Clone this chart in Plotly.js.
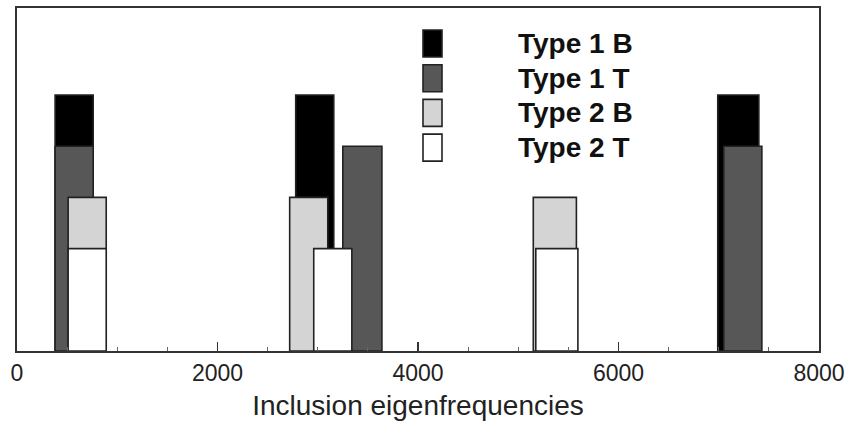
<!DOCTYPE html>
<html>
<head>
<meta charset="utf-8">
<script src="https://cdn.plot.ly/plotly-3.0.1.min.js"></script>
<style>html,body{margin:0;padding:0;background:#fff}#chart{width:857px;height:421px}</style>
</head>
<body>
<div id="chart"></div>
<script>
// Series names (legend)
const seriesNames = ["Type 1 B", "Type 1 T", "Type 2 B", "Type 2 T"];
// Bar centres (Hz) for each series
const type1B_center = [570, 2970, 7195];
const type1T_center = [570, 3445, 7240];
const type2B_center = [700, 2910, 5365];
const type2T_center = [700, 3150, 5385];
// Bar widths (Hz) for each series
const type1B_width = [380, 380, 410];
const type1T_width = [380, 390, 380];
const type2B_width = [380, 380, 430];
const type2T_width = [380, 380, 420];
// Bar heights (relative)
const type1B_height = [5, 5, 5];
const type1T_height = [4, 4, 4];
const type2B_height = [3, 3, 3];
const type2T_height = [2, 2, 2];
// X tick values / labels
const xTickVals = [0, 2000, 4000, 6000, 8000];
const xTickText = ["0", "2000", "4000", "6000", "8000"];

const fills = ["#000000", "#575757", "#d4d4d4", "#ffffff"];
const centers = [type1B_center, type1T_center, type2B_center, type2T_center];
const widths = [type1B_width, type1T_width, type2B_width, type2T_width];
const heights = [type1B_height, type1T_height, type2B_height, type2T_height];

const traces = seriesNames.map((name, i) => ({
  type: "bar",
  name: name,
  x: centers[i],
  y: heights[i],
  width: widths[i],
  marker: {color: fills[i], line: {color: "#222", width: 1.6}},
  showlegend: false,
  hoverinfo: "x+y+name"
}));

// custom legend (large boxes, text far right of them)
const shapes = [];
const annotations = [];
const plotHpx = 343;
seriesNames.forEach((name, i) => {
  const topPx = 30 + i * 34.7;
  const y1 = (351 - topPx) / plotHpx;
  const y0 = (351 - (topPx + 27)) / plotHpx;
  shapes.push({type: "rect", xref: "paper", yref: "paper",
    x0: (423 - 17) / 802, x1: (442 - 17) / 802, y0: y0, y1: y1,
    fillcolor: fills[i], line: {color: "#222", width: 1.6}});
  annotations.push({xref: "paper", yref: "paper", x: (516 - 17) / 802, y: (y0 + y1) / 2,
    xanchor: "left", yanchor: "middle", showarrow: false, text: "<b>" + name + "</b>",
    font: {family: "Liberation Sans, Arial, sans-serif", size: 28, color: "#111"}});
});

const layout = {
  width: 857, height: 421,
  margin: {l: 17, r: 38, t: 8, b: 70},
  paper_bgcolor: "#fff", plot_bgcolor: "#fff",
  barmode: "overlay",
  bargap: 0,
  xaxis: {
    range: [0, 8000],
    tickvals: xTickVals, ticktext: xTickText,
    ticks: "inside", ticklen: 9, tickwidth: 1.5, tickcolor: "#333",
    minor: {dtick: 500, ticks: "inside", ticklen: 4, tickwidth: 1, tickcolor: "#666"},
    showgrid: false, zeroline: false,
    showline: true, mirror: true, linecolor: "#333", linewidth: 2,
    tickfont: {family: "Liberation Sans, Arial, sans-serif", size: 23, color: "#222"},
    title: {text: "Inclusion eigenfrequencies", standoff: 13,
      font: {family: "Liberation Sans, Arial, sans-serif", size: 28, color: "#222"}}
  },
  yaxis: {
    range: [0, 6.7],
    showticklabels: false, ticks: "",
    showgrid: false, zeroline: false,
    showline: true, mirror: true, linecolor: "#333", linewidth: 2
  },
  shapes: shapes,
  annotations: annotations,
  showlegend: false
};

Plotly.newPlot("chart", traces, layout, {displayModeBar: false, staticPlot: true});
</script>
</body>
</html>
